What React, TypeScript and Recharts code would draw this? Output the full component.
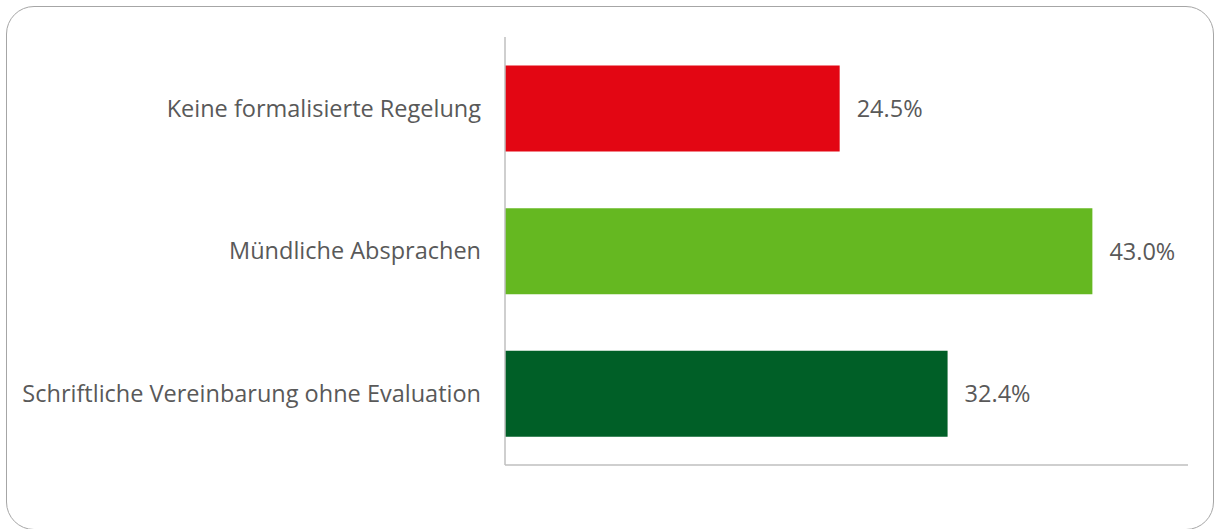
import React from 'react';
import { BarChart, Bar, XAxis, YAxis, Cell, LabelList } from 'recharts';

const categories = [
  'Keine formalisierte Regelung',
  'Mündliche Absprachen',
  'Schriftliche Vereinbarung ohne Evaluation',
];
const shares = [24.5, 43.0, 32.4];
const barColors = ['#E30613', '#65B821', '#005F27'];

const data = categories.map((name, i) => ({ name, value: shares[i] }));

const FONT = '"Open Sans", "Noto Sans", sans-serif';
const TEXT = '#595959';
const AXIS = '#bfbfbf';

export default function App() {
  return (
    <div style={{ position: 'absolute', left: 0, top: 0, width: 1215, height: 529, background: '#fff', overflow: 'hidden' }}>
      <BarChart
        width={1215}
        height={529}
        layout="vertical"
        data={data}
        margin={{ top: 37, right: 27, left: 0, bottom: 63 }}
        barCategoryGap="20%"
      >
        <XAxis
          type="number"
          domain={[0, 50]}
          axisLine={{ stroke: AXIS, strokeWidth: 1.5 }}
          tick={false}
          tickLine={false}
          height={1}
        />
        <YAxis
          type="category"
          dataKey="name"
          width={505}
          axisLine={{ stroke: AXIS, strokeWidth: 1.5 }}
          tickLine={false}
          tickMargin={18}
          interval={0}
          tick={{ fontSize: 23.5, fill: TEXT, fontFamily: FONT }}
        />
        <Bar dataKey="value" isAnimationActive={false}>
          {data.map((_, i) => (
            <Cell key={`cell-${i}`} fill={barColors[i]} />
          ))}
          <LabelList
            dataKey="value"
            position="right"
            offset={17}
            formatter={(v: number) => `${Number(v).toFixed(1)}%`}
            style={{ fontSize: 23.5, fill: TEXT, fontFamily: FONT }}
          />
        </Bar>
      </BarChart>
      {/* rounded frame drawn on top of the chart */}
      <div
        style={{
          position: 'absolute',
          left: 6,
          top: 6,
          width: 1208,
          height: 524,
          boxSizing: 'border-box',
          border: '1.5px solid #a6a6a6',
          borderRadius: 28,
          pointerEvents: 'none',
        }}
      />
    </div>
  );
}
